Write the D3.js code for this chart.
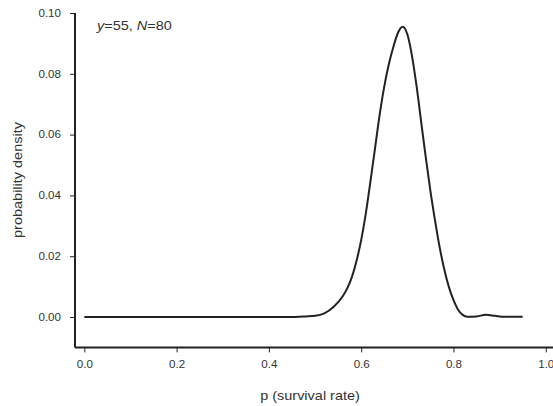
<!DOCTYPE html>
<html>
<head>
<meta charset="utf-8">
<script src="https://cdn.jsdelivr.net/npm/d3@7"></script>
<style>
  html, body { margin: 0; padding: 0; background: #fff; }
  svg { display: block; font-family: "Liberation Sans", Arial, sans-serif; }
</style>
</head>
<body>
<svg id="chart" width="553" height="406"></svg>
<script>
// Data
const pValues = [0.00, 0.10, 0.20, 0.30, 0.40, 0.45, 0.48, 0.50, 0.52, 0.54, 0.56, 0.57, 0.58, 0.59,
  0.60, 0.61, 0.62, 0.63, 0.64, 0.65, 0.66, 0.67, 0.68, 0.69, 0.70, 0.71, 0.72, 0.73, 0.74, 0.75,
  0.76, 0.77, 0.78, 0.79, 0.80, 0.81, 0.82, 0.83, 0.85, 0.87, 0.89, 0.91, 0.95];
const densityValues = [0, 0, 0, 0, 0, 0.0000, 0.0002, 0.0004, 0.0012, 0.0033, 0.0068, 0.0095, 0.0132, 0.0185,
  0.0253, 0.0340, 0.0445, 0.0555, 0.0665, 0.0758, 0.0832, 0.0890, 0.0936, 0.0955, 0.0930, 0.0860, 0.0760, 0.0642, 0.0525, 0.0415,
  0.0318, 0.0230, 0.0157, 0.0099, 0.0056, 0.0024, 0.0007, 0.0001, 0.0002, 0.0007, 0.0004, 0.0001, 0.0001];
const xTicks = [0.0, 0.2, 0.4, 0.6, 0.8, 1.0];
const yTicks = [0.00, 0.02, 0.04, 0.06, 0.08, 0.10];
const annotation = { y: 55, N: 80 };
const xLabel = "p (survival rate)";
const yLabel = "probability density";

const data = pValues.map((p, i) => ({ p, d: densityValues[i] }));

const svg = d3.select("#chart");
const x = d3.scaleLinear().domain([-0.0202, 1.0157]).range([75, 553]);
const y = d3.scaleLinear().domain([-0.01, 0.10]).range([347.4, 13]);

const ink = "#222";
const textCol = "#333";
const stretch = 1.16; // text in the reference is slightly wider than its height

// Axes
const xAxis = d3.axisBottom(x).tickValues(xTicks).tickFormat(d3.format(".1f")).tickSize(5).tickPadding(9);
const gx = svg.append("g").attr("transform", `translate(0,${y(-0.01)})`).call(xAxis);
gx.select(".domain").attr("d", `M${x.range()[0]},0H${x.range()[1]}`).attr("stroke", ink).attr("stroke-width", 2);
gx.selectAll(".tick line").attr("stroke", ink).attr("stroke-width", 1);
gx.selectAll(".tick text")
  .attr("font-size", 10).attr("fill", textCol).attr("font-family", "Liberation Sans, Arial, sans-serif")
  .attr("transform", `scale(${stretch},1)`);

const yAxis = d3.axisLeft(y).tickValues(yTicks).tickFormat(d3.format(".2f")).tickSize(5).tickPadding(9);
const gy = svg.append("g").attr("transform", `translate(${x(-0.0202)},0)`).call(yAxis);
gy.select(".domain").attr("d", `M0,${y(0.10)}V${y(-0.01)}`).attr("stroke", ink).attr("stroke-width", 2);
gy.selectAll(".tick line").attr("stroke", ink).attr("stroke-width", 1);
gy.selectAll(".tick text")
  .attr("font-size", 10).attr("fill", textCol).attr("font-family", "Liberation Sans, Arial, sans-serif")
  .attr("x", 0)
  .attr("transform", `translate(-14,0) scale(${stretch},1)`);

// Curve
const line = d3.line().x(d => x(d.p)).y(d => y(d.d)).curve(d3.curveMonotoneX);
svg.append("path").datum(data)
  .attr("d", line)
  .attr("fill", "none")
  .attr("stroke", ink)
  .attr("stroke-width", 2)
  .attr("stroke-linejoin", "round");

// Axis labels
svg.append("text")
  .attr("transform", `translate(310,400) scale(${stretch},1)`)
  .attr("text-anchor", "middle")
  .attr("font-size", 12.5).attr("fill", textCol)
  .text(xLabel);

svg.append("text")
  .attr("transform", `translate(22,180) rotate(-90) scale(${stretch},1)`)
  .attr("text-anchor", "middle")
  .attr("font-size", 12.5).attr("fill", textCol)
  .text(yLabel);

// Annotation
const ann = svg.append("text")
  .attr("transform", `translate(97,30) scale(${stretch},1)`)
  .attr("font-size", 12.5).attr("fill", textCol);
ann.append("tspan").attr("font-style", "italic").text("y");
ann.append("tspan").text(`=${annotation.y}, `);
ann.append("tspan").attr("font-style", "italic").text("N");
ann.append("tspan").text(`=${annotation.N}`);
</script>
</body>
</html>
